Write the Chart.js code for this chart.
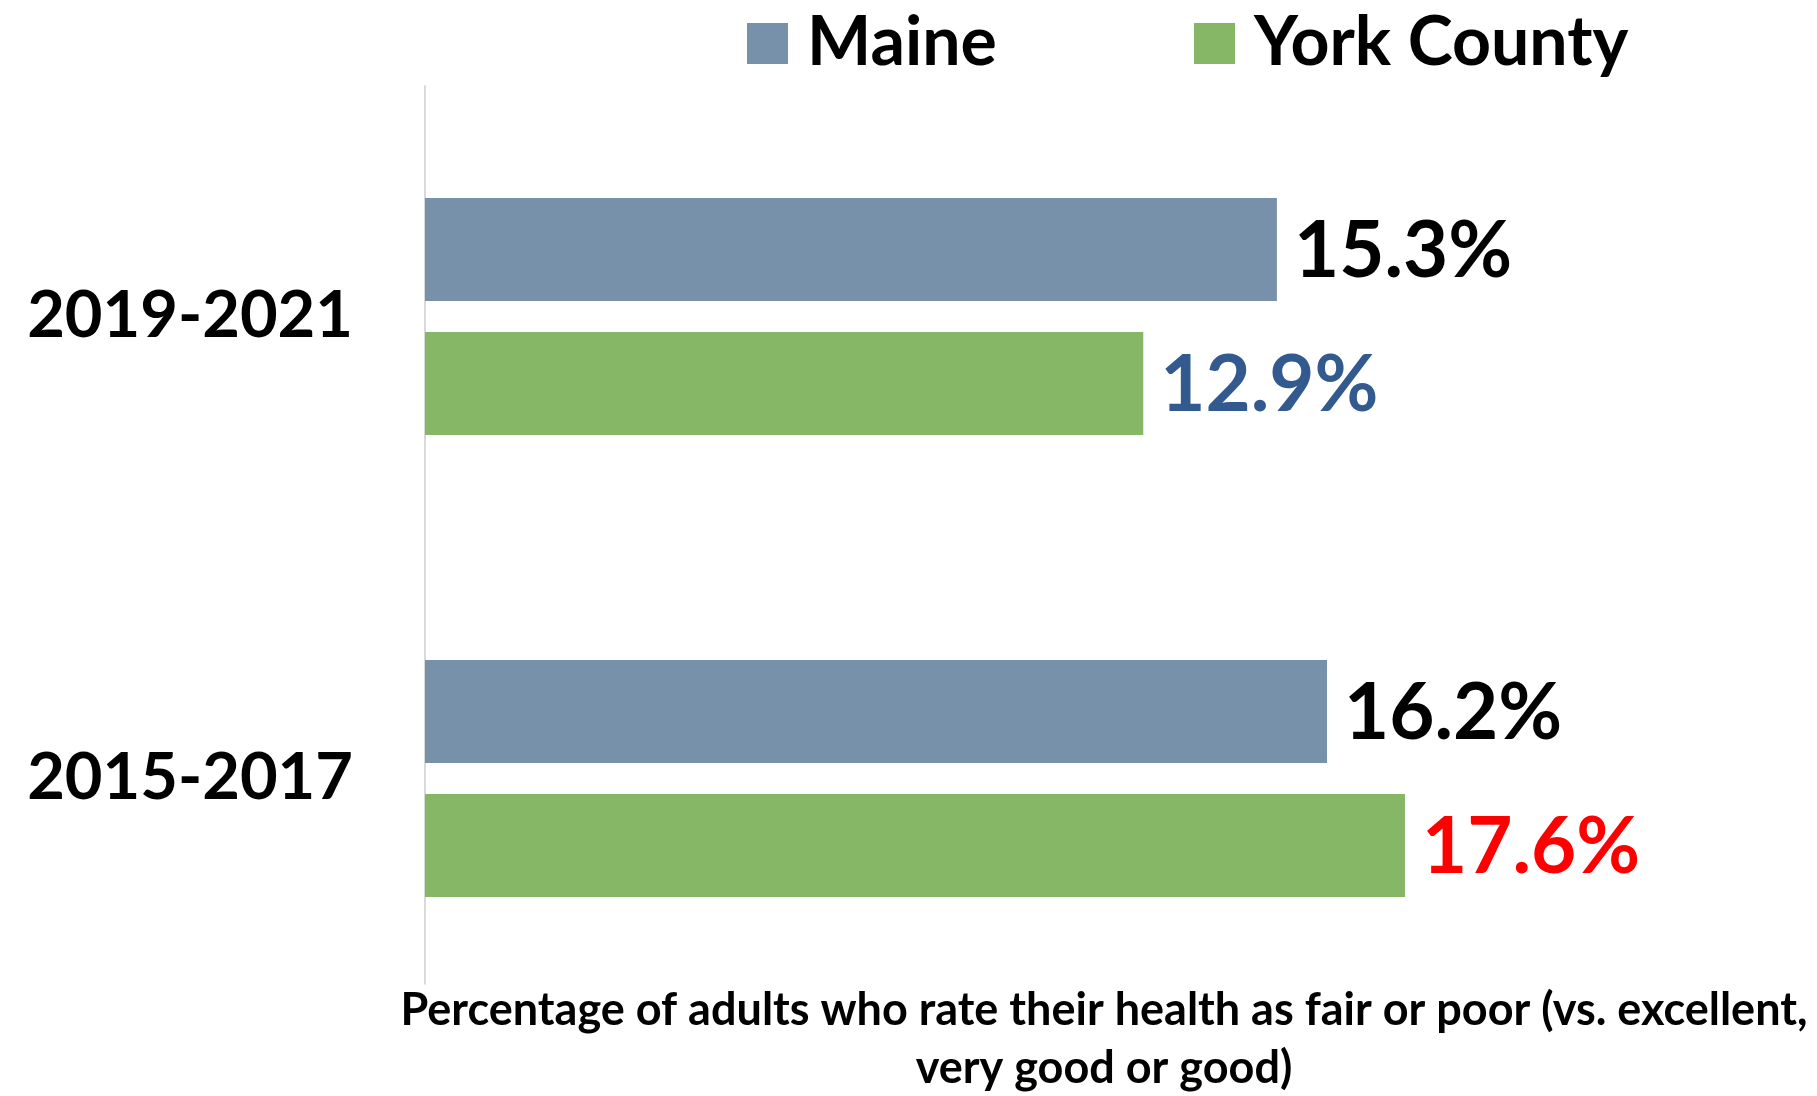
<!DOCTYPE html>
<html>
<head>
<meta charset="utf-8">
<title>Fair or poor health</title>
<script src="https://cdn.jsdelivr.net/npm/chart.js@4.4.1/dist/chart.umd.min.js"></script>
<style>
  html, body { margin: 0; padding: 0; background: #fff; }
  canvas { display: block; }
</style>
</head>
<body>
<canvas id="healthChart" width="1817" height="1096"></canvas>
<script>
const periods = ['2019-2021', '2015-2017'];
const maineValues = [15.3, 16.2];
const yorkValues = [12.9, 17.6];
const seriesNames = ['Maine', 'York County'];
const axisTitleLines = [
    'Percentage of adults who rate their health as fair or poor (vs. excellent,',
    'very good or good)'
];

const FONT = 'Lato, "Open Sans", sans-serif';
const MAINE_COLOR = '#7891AB';
const YORK_COLOR = '#85B766';
// label colours per dataset, per bar
const labelColors = [
    ['#000000', '#000000'],
    ['#335A8E', '#FF0000']
];

// value labels at the end of each bar
const barLabels = {
    id: 'barLabels',
    afterDatasetsDraw(chart) {
        const ctx = chart.ctx;
        ctx.save();
        ctx.font = 'bold 78px ' + FONT;
        ctx.textAlign = 'left';
        ctx.textBaseline = 'middle';
        chart.data.datasets.forEach((ds, i) => {
            chart.getDatasetMeta(i).data.forEach((bar, j) => {
                ctx.fillStyle = labelColors[i][j];
                ctx.fillText(ds.data[j].toFixed(1) + '%', bar.x + 17, bar.y + 2);
            });
        });
        ctx.restore();
    }
};

// light vertical axis line + bottom title
const axisDecor = {
    id: 'axisDecor',
    beforeDatasetsDraw(chart) {
        const { ctx, chartArea } = chart;
        ctx.save();
        ctx.strokeStyle = '#D9D9D9';
        ctx.lineWidth = 2;
        ctx.beginPath();
        ctx.moveTo(chartArea.left, chartArea.top);
        ctx.lineTo(chartArea.left, chartArea.bottom - 25);
        ctx.stroke();
        ctx.restore();
    },
    afterDraw(chart) {
        const ctx = chart.ctx;
        ctx.save();
        ctx.font = 'bold 45px ' + FONT;
        ctx.fillStyle = '#000';
        ctx.textAlign = 'center';
        ctx.textBaseline = 'middle';
        ctx.fillText(axisTitleLines[0], 1104, 1010);
        ctx.fillText(axisTitleLines[1], 1104, 1068);
        ctx.restore();
    }
};

// legend drawn at the top, offset to the right like the original
const topLegend = {
    id: 'topLegend',
    afterDraw(chart) {
        const ctx = chart.ctx;
        const spots = [747, 1194];
        ctx.save();
        ctx.font = 'bold 68px ' + FONT;
        ctx.textBaseline = 'middle';
        ctx.textAlign = 'left';
        chart.data.datasets.forEach((ds, i) => {
            const x = spots[i];
            ctx.fillStyle = ds.backgroundColor;
            ctx.fillRect(x, 23, 41, 41);
            ctx.fillStyle = '#000';
            ctx.fillText(ds.label, x + 60, 43);
        });
        ctx.restore();
    }
};

const ctx = document.getElementById('healthChart').getContext('2d');

new Chart(ctx, {
    type: 'bar',
    data: {
        labels: periods,
        datasets: [{
            label: seriesNames[0],
            data: maineValues,
            backgroundColor: MAINE_COLOR,
            categoryPercentage: 0.58,
            barPercentage: 0.769
        }, {
            label: seriesNames[1],
            data: yorkValues,
            backgroundColor: YORK_COLOR,
            categoryPercentage: 0.58,
            barPercentage: 0.769
        }]
    },
    plugins: [axisDecor, barLabels, topLegend],
    options: {
        indexAxis: 'y',
        responsive: false,
        animation: false,
        layout: {
            padding: { top: 85.5, bottom: 86.5, left: 0, right: 0 }
        },
        plugins: {
            legend: { display: false },
            tooltip: { enabled: false }
        },
        scales: {
            x: {
                display: false,
                min: 0,
                max: 25
            },
            y: {
                grid: { display: false, drawTicks: false },
                border: { display: false },
                ticks: {
                    color: '#000',
                    padding: 72,
                    font: { family: FONT, size: 65, weight: 'bold' }
                },
                afterFit: function (scale) {
                    scale.width = 425;
                    scale.paddingTop = 0;
                    scale.paddingBottom = 0;
                }
            }
        }
    }
});
</script>
</body>
</html>
